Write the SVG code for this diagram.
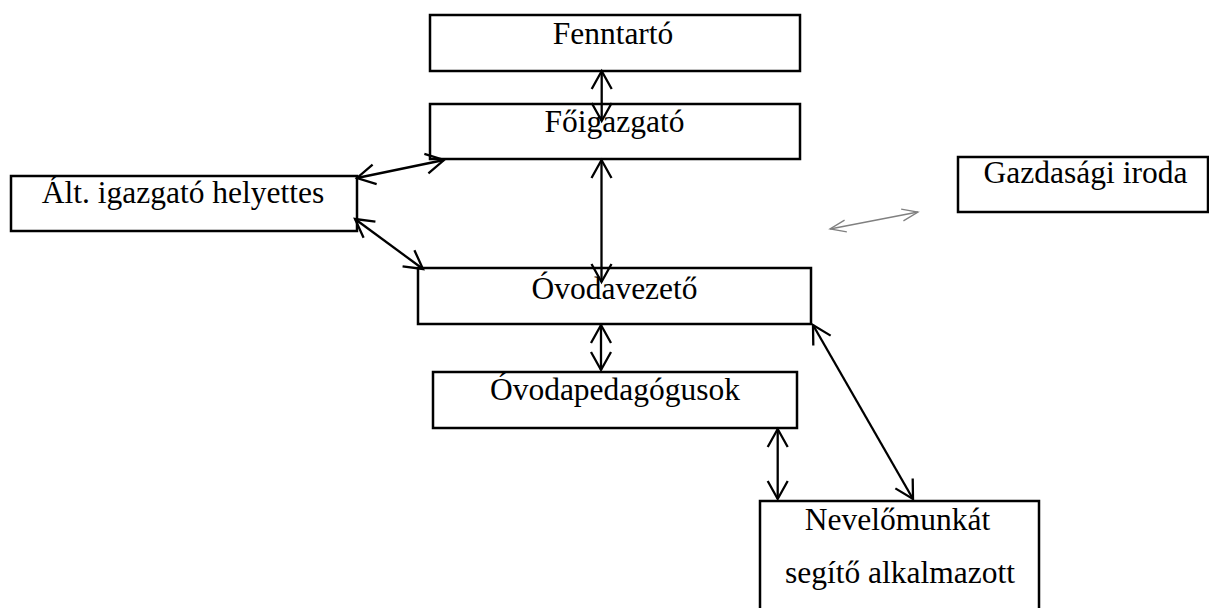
<svg xmlns="http://www.w3.org/2000/svg" width="1209" height="608" viewBox="0 0 1209 608">
<style>
.box{fill:#fff;stroke:#000;stroke-width:2.5}
.lbl{font-family:"Liberation Serif","Times New Roman",serif;font-size:31.5px;fill:#000;text-anchor:middle}
.con{stroke:#000;stroke-width:2.3;fill:none;marker-start:url(#ah);marker-end:url(#ah)}
.gray{stroke:#808080;stroke-width:1.3;fill:none;marker-start:url(#ahg);marker-end:url(#ahg)}
</style>
<defs>
<marker id="ah" markerUnits="userSpaceOnUse" orient="auto-start-reverse" viewBox="-20 -12 22 24" refX="0" refY="0" markerWidth="22" markerHeight="24" overflow="visible">
<path d="M-18,-10 L0,0 L-18,10" fill="none" stroke="#000" stroke-width="2.3"/>
</marker>
<marker id="ahg" markerUnits="userSpaceOnUse" orient="auto-start-reverse" viewBox="-20 -12 22 24" refX="0" refY="0" markerWidth="22" markerHeight="24" overflow="visible">
<path d="M-16,-6 L0,0 L-16,6" fill="none" stroke="#808080" stroke-width="1.3"/>
</marker>
</defs>
<rect width="1209" height="608" fill="#fff"/>
<g id="fenntarto"><rect class="box" x="430" y="15" width="370" height="56"/><text class="lbl" x="613" y="44">Fenntartó</text></g>
<g id="foigazgato"><rect class="box" x="430" y="104" width="370" height="55"/><text class="lbl" x="614.5" y="132">Főigazgató</text></g>
<g id="alt-igazgato"><rect class="box" x="11" y="176" width="346" height="55"/><text class="lbl" x="183" y="203">Ált. igazgató helyettes</text></g>
<g id="gazdasagi"><rect class="box" x="958" y="157" width="250" height="55"/><text class="lbl" x="1085.5" y="183">Gazdasági iroda</text></g>
<g id="ovodavezeto"><rect class="box" x="418" y="268" width="393" height="56"/><text class="lbl" x="614.5" y="299">Óvodavezető</text></g>
<g id="ovodapedagogusok"><rect class="box" x="433" y="372" width="364" height="56"/><text class="lbl" x="615" y="400">Óvodapedagógusok</text></g>
<g id="nevelo"><rect class="box" x="760" y="501" width="279" height="120"/><text class="lbl" x="897.5" y="530">Nevelőmunkát</text><text class="lbl" x="900" y="583">segítő alkalmazott</text></g>
<g id="connectors">
<line class="con" x1="601.7" y1="71" x2="601.7" y2="121"/>
<line class="con" x1="601.5" y1="160" x2="601.5" y2="282"/>
<line class="con" x1="357" y1="178" x2="444" y2="160"/>
<line class="con" x1="355" y1="219" x2="423" y2="269"/>
<line class="gray" x1="830" y1="229" x2="918" y2="212"/>
<line class="con" x1="601" y1="325" x2="601" y2="370"/>
<line class="con" x1="777.7" y1="429" x2="777.7" y2="499"/>
<line class="con" x1="813" y1="325" x2="913" y2="499"/>
</g>
</svg>
